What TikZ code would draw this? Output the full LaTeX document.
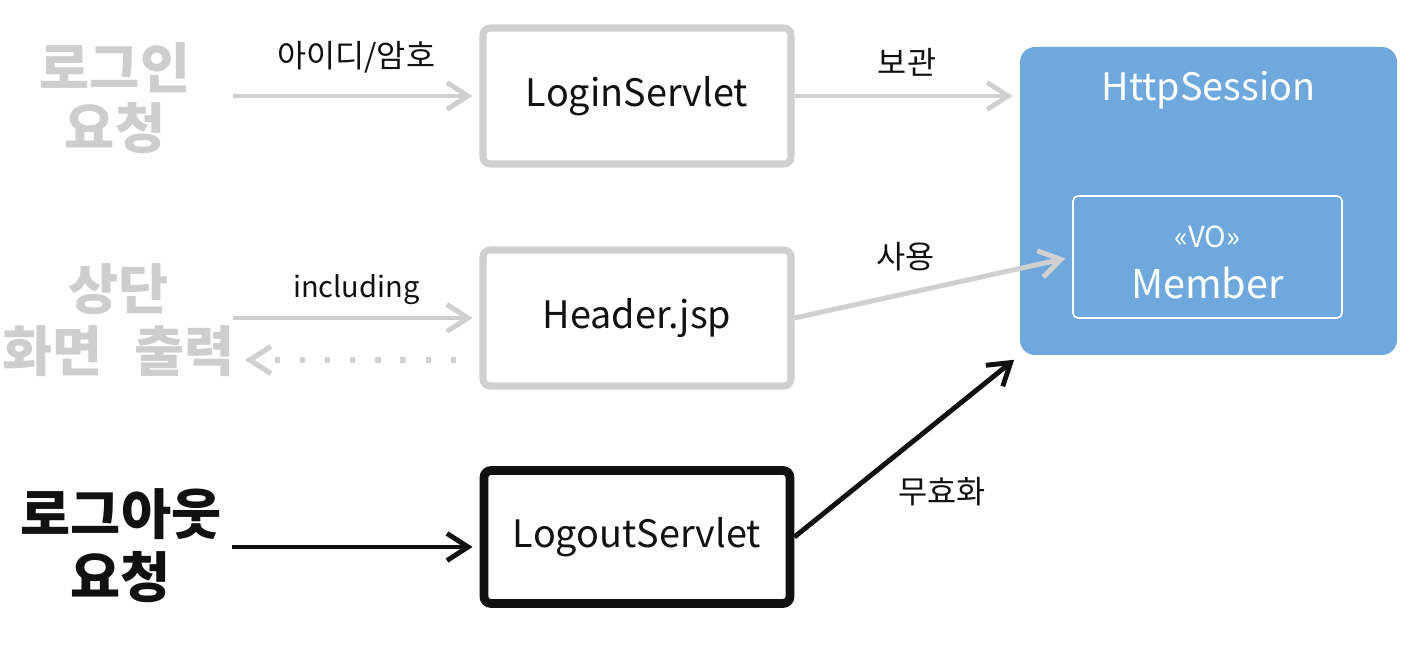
\documentclass[tikz,border=0pt]{standalone}
\usepackage{fontspec}
\setmainfont{Noto Sans CJK KR}
\usetikzlibrary{arrows.meta,positioning}
\definecolor{LineGray}{RGB}{208,208,208}
\definecolor{TextGray}{RGB}{206,206,206}
\definecolor{SessionBlue}{RGB}{111,168,221}
\definecolor{InkBlack}{RGB}{17,17,17}

\begin{document}
\begin{tikzpicture}[
      servletBox/.style={draw=LineGray,fill=white,line width=4pt,rounded corners=4pt,
                         minimum width=6.16cm,minimum height=2.72cm,
                         font=\fontsize{21.5}{26}\selectfont,text=InkBlack},
      sessionBox/.style={fill=SessionBlue,rounded corners=0.3cm,
                         minimum width=7.54cm,minimum height=6.16cm},
      memberBox/.style={draw=white,line width=0.9pt,rounded corners=0.1cm,
                        minimum width=5.38cm,minimum height=2.44cm},
      sideText/.style={align=center,inner sep=0pt,text=TextGray,
                       font=\fontsize{31}{34}\selectfont\bfseries},
      edgeLabel/.style={inner sep=0pt,text=InkBlack,font=\fontsize{18}{22}\selectfont},
      grayArrow/.style={-{Straight Barb[length=4.2mm,width=5.4mm]},
                        LineGray,line width=2.8pt,shorten >=4pt},
      blackArrow/.style={-{Straight Barb[length=4.2mm,width=5.4mm]},
                         InkBlack,line width=2.8pt,shorten >=4pt}
    ]
    \useasboundingbox (0,0) rectangle (28.36,-13);

    % Requests on the left
    \node(loginReq)[sideText] at (2.3,-1.97) {로그인\\요청};
    \node(headerReq)[sideText,font=\fontsize{31}{35}\selectfont\bfseries] at (2.37,-6.4) {상단\\화면\hspace{0.35em} 출력};
    \node(logoutReq)[sideText,text=InkBlack,font=\fontsize{31}{36}\selectfont\bfseries] at (2.42,-10.92) {로그아웃\\요청};

    % Servlets and JSP
    \node(login)[servletBox] at (12.74,-1.92) {LoginServlet};
    \node(header)[servletBox] at (12.74,-6.36) {Header.jsp};
    \node(logout)[servletBox,draw=InkBlack,line width=5pt,
                  minimum width=6.12cm,minimum height=2.66cm] at (12.74,-10.74) {LogoutServlet};

    % Session with the member VO
    \node(session)[sessionBox] at (24.17,-4.02) {};
    \node(sessionTitle)[text=white,font=\fontsize{21.5}{26}\selectfont] at (24.17,-1.8) {HttpSession};
    \node(member)[memberBox] at (24.15,-5.14) {};
    \node(voTag)[text=white,font=\fontsize{16.5}{20}\selectfont] at (24.15,-4.74) {«VO»};
    \node(memberName)[text=white,font=\fontsize{22.5}{27}\selectfont] at (24.15,-5.66) {Member};

    % Incoming requests
    \coordinate (loginIn) at ([xshift=-4.93cm]login.west);
    \coordinate (headerIn) at ([xshift=-4.93cm]header.west);
    \coordinate (headerOut) at ([xshift=-0.47cm,yshift=-0.84cm]header.west);
    \coordinate (headerBack) at (4.9,-7.2);
    \coordinate (logoutIn) at ([xshift=-4.95cm,yshift=-0.2cm]logout.west);

    \draw[grayArrow] (loginIn) -- node[edgeLabel,above=0.4cm]{아이디/암호} (login.west);
    \draw[grayArrow] (headerIn) -- node[edgeLabel,above=0.22cm,font=\fontsize{16.5}{20}\selectfont]{including} (header.west);
    \draw[grayArrow,line width=3pt,dash pattern=on 3pt off 11.3pt,shorten >=0pt] (headerOut) -- (headerBack);
    \draw[blackArrow] (logoutIn) -- ([yshift=-0.2cm]logout.west);

    % Session access
    \draw[grayArrow] (login.east) -- node[edgeLabel,above=0.35cm]{보관} (login.east -| session.west);
    \draw[grayArrow] (header.east) -- node[edgeLabel,pos=0.4,above=0.4cm]{사용} (member.west);
    \draw[blackArrow] (logout.east) -- node[edgeLabel,pos=0.25,right=0.9cm]{무효화} (session.south west);
  \end{tikzpicture}
\end{document}
